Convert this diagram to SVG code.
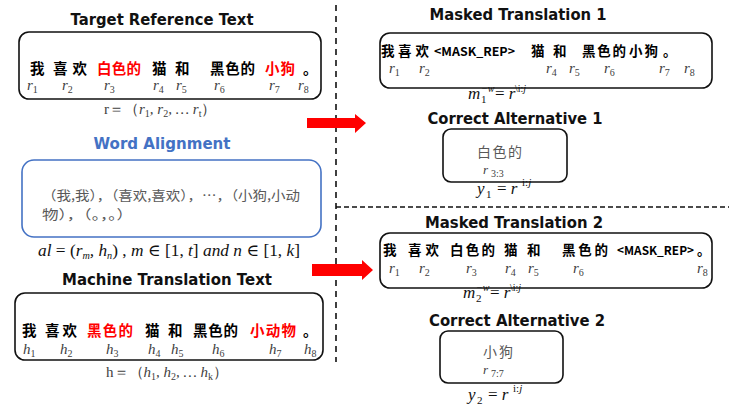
<svg xmlns="http://www.w3.org/2000/svg" width="729" height="408" viewBox="0 0 729 408">
<style>
.bg{fill:#fff}
.title{font-family:"DejaVu Sans","Liberation Sans",sans-serif;font-weight:bold;font-size:16.5px;fill:#111}
.box{fill:#fff;stroke:#111;stroke-width:1.6}
.bbox{fill:#fff;stroke:#4472C4;stroke-width:1.6}
.zh{font-family:"Noto Sans CJK SC","Noto Sans CJK JP",sans-serif;font-weight:700;font-size:14.5px;fill:#000}
.zs{font-size:13.5px}
.mask{font-size:12px}
.red{fill:#ff0000}
.zg{font-family:"Noto Sans CJK SC","Noto Sans CJK JP",sans-serif;font-weight:400;font-size:13px;fill:#595959}
.m{font-family:"Liberation Serif","DejaVu Serif",serif;font-style:italic;font-size:15px;fill:#404040}
.mb{font-family:"Liberation Serif","DejaVu Serif",serif;font-style:italic;font-size:17px;fill:#111}
.s{font-family:"Liberation Serif","DejaVu Serif",serif;font-style:normal;font-size:10px;fill:#404040}
.sb{font-family:"Liberation Serif","DejaVu Serif",serif;font-style:normal;font-size:11px;fill:#111}
.si{font-family:"Liberation Serif","DejaVu Serif",serif;font-style:italic;font-size:10px;fill:#111}
.dash{stroke:#111;stroke-width:1.6;fill:none}
.arrow{fill:#ff0000}
</style>
<rect class="bg" x="0" y="0" width="729" height="408"/>

<g id="dividers">
<line class="dash" x1="336" y1="5" x2="336" y2="362" stroke-dasharray="6 5"/>
<line class="dash" x1="336" y1="207" x2="729" y2="207" stroke-dasharray="5 3"/>
</g>

<g id="target-reference">
<text class="title" x="162" y="25" text-anchor="middle" textLength="183" lengthAdjust="spacingAndGlyphs">Target Reference Text</text>
<rect class="box" x="19" y="32" width="302" height="67" rx="10"/>
<text class="zh" x="30" y="74">我</text>
<text class="zh" x="53" y="74" textLength="34">喜欢</text>
<text class="zh red" x="97" y="74" textLength="44">白色的</text>
<text class="zh" x="152" y="74">猫</text>
<text class="zh" x="175" y="74">和</text>
<text class="zh" x="210" y="74" textLength="45">黑色的</text>
<text class="zh red" x="265" y="74" textLength="30">小狗</text>
<text class="zh" x="303" y="74">。</text>
<text class="m" x="27" y="90">r<tspan class="s" dy="3">1</tspan></text>
<text class="m" x="62" y="90">r<tspan class="s" dy="3">2</tspan></text>
<text class="m" x="104" y="90">r<tspan class="s" dy="3">3</tspan></text>
<text class="m" x="153" y="90">r<tspan class="s" dy="3">4</tspan></text>
<text class="m" x="176" y="90">r<tspan class="s" dy="3">5</tspan></text>
<text class="m" x="214" y="90">r<tspan class="s" dy="3">6</tspan></text>
<text class="m" x="269" y="90">r<tspan class="s" dy="3">7</tspan></text>
<text class="m" x="298" y="90">r<tspan class="s" dy="3">8</tspan></text>
<text class="m" x="104" y="114"><tspan font-style="normal">r＝（</tspan>r<tspan class="s" dy="3">1</tspan><tspan dy="-3">, r</tspan><tspan class="s" dy="3">2</tspan><tspan dy="-3">, … r</tspan><tspan class="s" dy="3">t</tspan><tspan dy="-3" font-style="normal">）</tspan></text>
</g>

<g id="word-alignment">
<text class="title" x="162" y="149" text-anchor="middle" textLength="137" lengthAdjust="spacingAndGlyphs" style="fill:#4472C4">Word Alignment</text>
<rect class="bbox" x="22" y="160" width="299" height="77" rx="12"/>
<text class="zg" x="42" y="200" textLength="258" lengthAdjust="spacingAndGlyphs">（我,我），（喜欢,喜欢），…，（小狗,小动</text>
<text class="zg" x="42" y="219" textLength="91" lengthAdjust="spacingAndGlyphs">物），（。，。）</text>
<text class="mb" x="38" y="256" textLength="262" lengthAdjust="spacingAndGlyphs">al <tspan font-style="normal">= (</tspan>r<tspan class="si" dy="3">m</tspan><tspan dy="-3">, h</tspan><tspan class="si" dy="3">n</tspan><tspan dy="-3" font-style="normal">) ,</tspan> m <tspan font-style="normal">∈ [1,</tspan> t<tspan font-style="normal">]</tspan> and n <tspan font-style="normal">∈ [1,</tspan> k<tspan font-style="normal">]</tspan></text>
</g>

<g id="machine-translation">
<text class="title" x="167" y="285" text-anchor="middle" textLength="210" lengthAdjust="spacingAndGlyphs">Machine Translation Text</text>
<rect class="box" x="15" y="293" width="308" height="67" rx="10"/>
<text class="zh" x="22" y="336">我</text>
<text class="zh" x="45" y="336" textLength="32">喜欢</text>
<text class="zh red" x="87" y="336" textLength="46">黑色的</text>
<text class="zh" x="145" y="336">猫</text>
<text class="zh" x="168" y="336">和</text>
<text class="zh" x="193" y="336" textLength="45">黑色的</text>
<text class="zh red" x="250" y="336" textLength="46">小动物</text>
<text class="zh" x="303" y="336">。</text>
<text class="m" x="23" y="354">h<tspan class="s" dy="3">1</tspan></text>
<text class="m" x="60" y="354">h<tspan class="s" dy="3">2</tspan></text>
<text class="m" x="106" y="354">h<tspan class="s" dy="3">3</tspan></text>
<text class="m" x="148" y="354">h<tspan class="s" dy="3">4</tspan></text>
<text class="m" x="171" y="354">h<tspan class="s" dy="3">5</tspan></text>
<text class="m" x="212" y="354">h<tspan class="s" dy="3">6</tspan></text>
<text class="m" x="269" y="354">h<tspan class="s" dy="3">7</tspan></text>
<text class="m" x="304" y="354">h<tspan class="s" dy="3">8</tspan></text>
<text class="m" x="106" y="377"><tspan font-style="normal">h＝（</tspan>h<tspan class="s" dy="3">1</tspan><tspan dy="-3">, h</tspan><tspan class="s" dy="3">2</tspan><tspan dy="-3">, … h</tspan><tspan class="s" dy="3">k</tspan><tspan dy="-3" font-style="normal">）</tspan></text>
</g>

<g id="masked-translation-1">
<text class="title" x="518" y="20" text-anchor="middle" textLength="177" lengthAdjust="spacingAndGlyphs">Masked Translation 1</text>
<rect class="box" x="380" y="33" width="332" height="55" rx="10"/>
<text class="zh zs" x="381" y="56">我</text>
<text class="zh zs" x="398" y="56" textLength="31">喜欢</text>
<text class="zh mask" x="434" y="56" textLength="81" lengthAdjust="spacingAndGlyphs">&lt;MASK_REP&gt;</text>
<text class="zh zs" x="531" y="56">猫</text>
<text class="zh zs" x="553" y="56">和</text>
<text class="zh zs" x="582" y="56" textLength="44">黑色的</text>
<text class="zh zs" x="629" y="56" textLength="29">小狗</text>
<text class="zh zs" x="663" y="56">。</text>
<text class="m" x="389" y="73">r<tspan class="s" dy="3">1</tspan></text>
<text class="m" x="419" y="73">r<tspan class="s" dy="3">2</tspan></text>
<text class="m" x="546" y="73">r<tspan class="s" dy="3">4</tspan></text>
<text class="m" x="569" y="73">r<tspan class="s" dy="3">5</tspan></text>
<text class="m" x="604" y="73">r<tspan class="s" dy="3">6</tspan></text>
<text class="m" x="659" y="73">r<tspan class="s" dy="3">7</tspan></text>
<text class="m" x="684" y="73">r<tspan class="s" dy="3">8</tspan></text>
<text class="mb" x="468" y="99">m</text>
<text class="si" x="481" y="92">−w</text>
<text class="sb" x="481" y="103">1</text>
<text class="mb" x="495" y="99"><tspan font-style="normal">=</tspan> r</text>
<text class="si" x="515" y="92"><tspan font-style="normal">\i:</tspan>j</text>
</g>

<g id="correct-alternative-1">
<text class="title" x="515" y="124" text-anchor="middle" textLength="175" lengthAdjust="spacingAndGlyphs">Correct Alternative 1</text>
<rect class="box" x="443" y="129" width="124" height="53" rx="8"/>
<text class="zg" x="477" y="157" textLength="45" style="font-size:14px">白色的</text>
<text class="m" x="483" y="174" style="font-size:13px">r</text>
<text class="s" x="491" y="177">3:3</text>
<text class="mb" x="477" y="194">y</text>
<text class="sb" x="486" y="198">1</text>
<text class="mb" x="497" y="194"><tspan font-style="normal">=</tspan> r</text>
<text class="sb" x="522" y="186">i:<tspan font-style="italic">j</tspan></text>
</g>

<g id="masked-translation-2">
<text class="title" x="514" y="228" text-anchor="middle" textLength="178" lengthAdjust="spacingAndGlyphs">Masked Translation 2</text>
<rect class="box" x="380" y="233" width="332" height="55" rx="10"/>
<text class="zh zs" x="383" y="255">我</text>
<text class="zh zs" x="408" y="255" textLength="31">喜欢</text>
<text class="zh zs" x="450" y="255" textLength="45">白色的</text>
<text class="zh zs" x="504" y="255">猫</text>
<text class="zh zs" x="527" y="255">和</text>
<text class="zh zs" x="562" y="255" textLength="46">黑色的</text>
<text class="zh mask" x="617" y="255" textLength="77" lengthAdjust="spacingAndGlyphs">&lt;MASK_REP&gt;</text>
<text class="zh zs" x="697" y="255">。</text>
<text class="m" x="389" y="273">r<tspan class="s" dy="3">1</tspan></text>
<text class="m" x="419" y="273">r<tspan class="s" dy="3">2</tspan></text>
<text class="m" x="466" y="273">r<tspan class="s" dy="3">3</tspan></text>
<text class="m" x="505" y="273">r<tspan class="s" dy="3">4</tspan></text>
<text class="m" x="528" y="273">r<tspan class="s" dy="3">5</tspan></text>
<text class="m" x="573" y="273">r<tspan class="s" dy="3">6</tspan></text>
<text class="m" x="697" y="273">r<tspan class="s" dy="3">8</tspan></text>
<text class="mb" x="463" y="298">m</text>
<text class="si" x="476" y="291">−w</text>
<text class="sb" x="476" y="302">2</text>
<text class="mb" x="490" y="298"><tspan font-style="normal">=</tspan> r</text>
<text class="si" x="510" y="291"><tspan font-style="normal">\i:</tspan>j</text>
</g>

<g id="correct-alternative-2">
<text class="title" x="517" y="326" text-anchor="middle" textLength="176" lengthAdjust="spacingAndGlyphs">Correct Alternative 2</text>
<rect class="box" x="440" y="331" width="123" height="52" rx="8"/>
<text class="zg" x="483" y="357" textLength="30" style="font-size:14px">小狗</text>
<text class="m" x="483" y="374" style="font-size:13px">r</text>
<text class="s" x="491" y="377">7:7</text>
<text class="mb" x="468" y="400">y</text>
<text class="sb" x="477" y="404">2</text>
<text class="mb" x="488" y="400"><tspan font-style="normal">=</tspan> r</text>
<text class="sb" x="513" y="392">i:<tspan font-style="italic">j</tspan></text>
</g>

<g id="connectors">
<polygon class="arrow" points="307,118 355,118 355,114 366,123 355,133 355,128 307,128"/>
<polygon class="arrow" points="312,264 362,264 362,260 373,270 362,280 362,276 312,276"/>
</g>
</svg>
